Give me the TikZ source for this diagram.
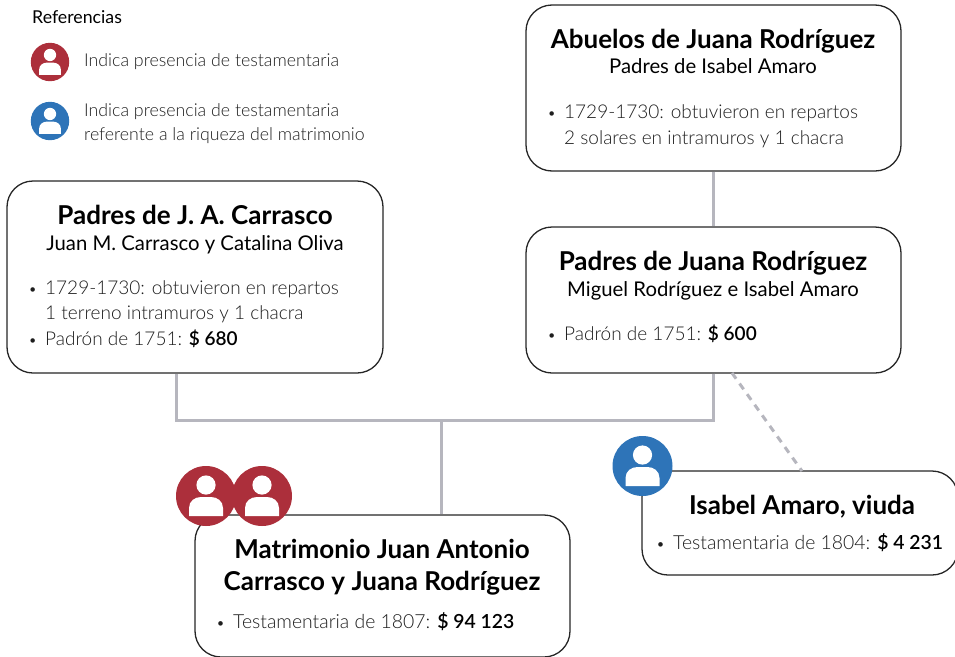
\documentclass[tikz,border=0pt]{standalone}
\usepackage{fontspec}
\setmainfont{Lato}
\newfontfamily\lightfont{Lato Light}
\usepackage{tikz}
\definecolor{linkGray}{HTML}{B6B6BE}
\definecolor{iconRed}{HTML}{AC2F3B}
\definecolor{iconBlue}{HTML}{2E74B8}
\definecolor{bodyGray}{HTML}{1E1E1E}
\tikzset{
    famBox/.style={draw=black!85, line width=1.3pt, rounded corners=26pt, fill=white, inner sep=0pt},
    titleText/.style={anchor=base, inner sep=0pt, font=\bfseries\fontsize{26}{32}\selectfont, align=center, text=black},
    subText/.style={anchor=base, inner sep=0pt, font=\fontsize{20.3}{24}\selectfont, text=black},
    bodyText/.style={anchor=base west, inner sep=0pt, align=left, font=\lightfont\fontsize{19}{25.5}\selectfont, text=bodyGray},
    testText/.style={bodyText, font=\lightfont\fontsize{19.4}{25.5}\selectfont},
    legendText/.style={anchor=base west, inner sep=0pt, align=left, font=\lightfont\fontsize{17.75}{24}\selectfont, text=bodyGray},
    linkLine/.style={draw=linkGray, line width=3pt},
    pics/personIcon/.style={code={
        \fill[#1] (0,0) circle (30);
        \fill[white] (0,-11) circle (9.6);
        \fill[white] (-17,20) -- (-17,12) .. controls (-17,5) and (-11,1) .. (-5,1) -- (5,1) .. controls (11,1) and (17,5) .. (17,12) -- (17,20) -- cycle;
    }}
}
\newcommand{\bul}{\llap{\scalebox{0.8}{\textbullet}\hspace{8pt}}}
\newcommand{\amount}[1]{\textcolor{black}{\bfseries #1}}
\begin{document}
\begin{tikzpicture}[x=1pt,y=-1pt]
        \useasboundingbox (0,0) rectangle (955,656);

        % Family boxes
        \node[famBox, minimum width=375pt, minimum height=166pt] (abuelos) at (713.5,88) {};
        \node[famBox, minimum width=376pt, minimum height=192pt] (padresCarrasco) at (195,277) {};
        \node[famBox, minimum width=375pt, minimum height=146pt] (padresJuana) at (713.5,300) {};
        \node[famBox, minimum width=375pt, minimum height=142pt] (matrimonio) at (382.5,586) {};
        \node[famBox, minimum width=316pt, minimum height=104pt] (isabel) at (800,523) {};

        % Connectors
        \coordinate (joint) at (441,420);
        \coordinate (dashTop) at (732,373);
        \coordinate (dashEnd) at (802,471);
        \draw[linkLine] (abuelos) -- (padresJuana);
        \draw[linkLine] (padresJuana.south) |- (joint) -| ([xshift=-19pt]padresCarrasco.south);
        \draw[linkLine] (joint) -- (joint |- matrimonio.north);
        \draw[linkLine, dash pattern=on 7pt off 6pt] (dashTop) -- (dashEnd);

        % Legend
        \node[anchor=base west, inner sep=0pt, font=\fontsize{17.75}{20}\selectfont] (legendTitle) at (32,23) {Referencias};
        \pic[scale=0.64] at (50,62) {personIcon=iconRed};
        \pic[scale=0.64] at (50,121) {personIcon=iconBlue};
        \node[legendText] (legendOne) at (84,66) {Indica presencia de testamentaria};
        \node[legendText] (legendTwo) at (84,140) {Indica presencia de testamentaria\\referente a la riqueza del matrimonio};

        % Abuelos
        \node[titleText] (abuelosTitle) at (713,48) {Abuelos de Juana Rodríguez};
        \node[subText] (abuelosSub) at (713,73) {Padres de Isabel Amaro};
        \node[bodyText] (abuelosBody) at (564,144) {\bul 1729-1730: obtuvieron en repartos\\2 solares en intramuros y 1 chacra};

        % Padres de Carrasco
        \node[titleText] (carrascoTitle) at (195,224) {Padres de J. A. Carrasco};
        \node[subText] (carrascoSub) at (195,250) {Juan M. Carrasco y Catalina Oliva};
        \node[bodyText] (carrascoBody) at (45,345) {\bul 1729-1730: obtuvieron en repartos\\1 terreno intramuros y 1 chacra\\\bul Padrón de 1751: \amount{\$ 680}};

        % Padres de Juana
        \node[titleText] (juanaTitle) at (713,270) {Padres de Juana Rodríguez};
        \node[subText] (juanaSub) at (713,296) {Miguel Rodríguez e Isabel Amaro};
        \node[bodyText] (juanaBody) at (564,340) {\bul Padrón de 1751: \amount{\$ 600}};

        % Matrimonio
        \node[titleText] (matrimonioTitle) at (382,590) {Matrimonio Juan Antonio\\Carrasco y Juana Rodríguez};
        \node[testText] (matrimonioBody) at (233,628) {\bul Testamentaria de 1807: \amount{\$ 94 123}};

        % Isabel
        \node[titleText] (isabelTitle) at (802,514) {Isabel Amaro, viuda};
        \node[testText] (isabelBody) at (673,549) {\bul Testamentaria de 1804: \amount{\$ 4 231}};

        % Icons over the boxes
        \foreach \cx in {206,262} {
            \pic at (\cx,496) {personIcon=iconRed};
        }
        \pic at (642.5,466) {personIcon=iconBlue};
    \end{tikzpicture}
\end{document}
